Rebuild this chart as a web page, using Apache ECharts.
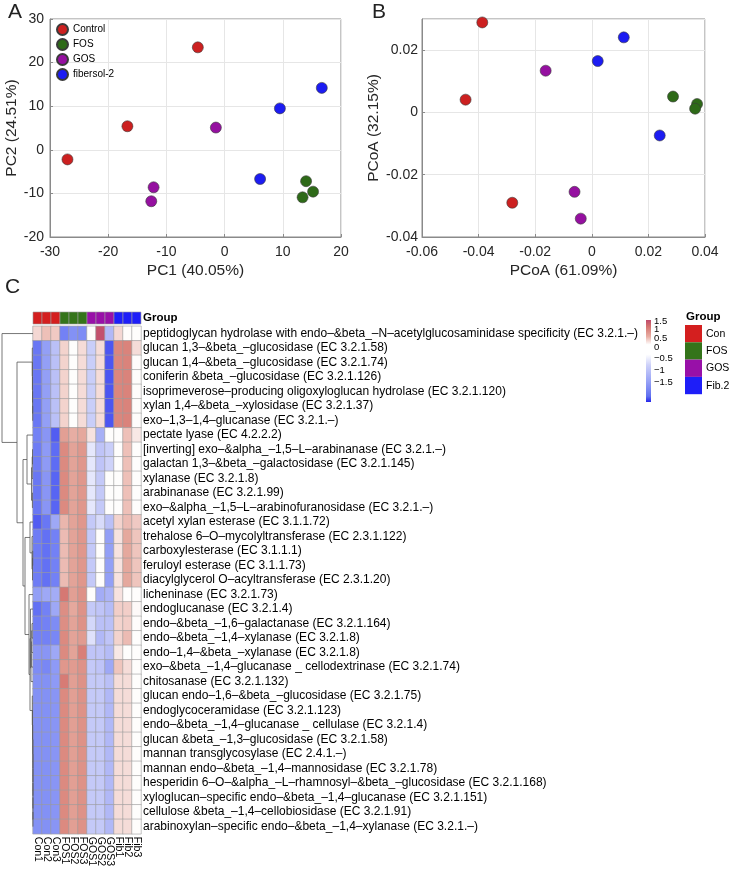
<!DOCTYPE html>
<html><head><meta charset="utf-8">
<script src="https://cdn.jsdelivr.net/npm/echarts@6/dist/echarts.min.js"></script>
<style>html,body{margin:0;padding:0;background:#fff}#c{width:733px;height:870px}</style>
</head><body><div id="c"></div>
<script>
// ---------- DATA ----------
const pcaNames = ['Control','FOS','GOS','fibersol-2'];
const pcaControl = [[-27.0,-2.2],[-16.7,5.4],[-4.6,23.5]];
const pcaFOS = [[14.0,-7.2],[15.2,-9.6],[13.4,-10.9]];
const pcaGOS = [[-1.5,5.1],[-12.2,-8.6],[-12.6,-11.8]];
const pcaFib = [[6.1,-6.7],[9.5,9.5],[16.7,14.2]];

const pcoaControl = [[-0.0387,0.0289],[-0.0446,0.0041],[-0.0281,-0.0290]];
const pcoaFOS = [[0.0287,0.0051],[0.0372,0.0027],[0.0365,0.0012]];
const pcoaGOS = [[-0.0163,0.0134],[-0.0061,-0.0255],[-0.0039,-0.0341]];
const pcoaFib = [[0.0021,0.0165],[0.0113,0.0241],[0.0240,-0.0074]];

const colLabels = ['Con1','Con2','Con3','FOS1','FOS2','FOS3','GOS1','GOS2','GOS3','Fib1','Fib2','Fib3'];
const colGroups = [0,0,0,1,1,1,2,2,2,3,3,3];
const groupNames = ['Con','FOS','GOS','Fib.2'];
const legendTicks = [1.5,1,0.5,0,-0.5,-1,-1.5];

const rowLabels = [
'peptidoglycan hydrolase with endo–&beta_–N–acetylglucosaminidase specificity (EC 3.2.1.–)',
'glucan 1,3–&beta_–glucosidase (EC 3.2.1.58)',
'glucan 1,4–&beta_–glucosidase (EC 3.2.1.74)',
'coniferin &beta_–glucosidase (EC 3.2.1.126)',
'isoprimeverose–producing oligoxyloglucan hydrolase (EC 3.2.1.120)',
'xylan 1,4–&beta_–xylosidase (EC 3.2.1.37)',
'exo–1,3–1,4–glucanase (EC 3.2.1.–)',
'pectate lyase (EC 4.2.2.2)',
'[inverting] exo–&alpha_–1,5–L–arabinanase (EC 3.2.1.–)',
'galactan 1,3–&beta_–galactosidase (EC 3.2.1.145)',
'xylanase (EC 3.2.1.8)',
'arabinanase (EC 3.2.1.99)',
'exo–&alpha_–1,5–L–arabinofuranosidase (EC 3.2.1.–)',
'acetyl xylan esterase (EC 3.1.1.72)',
'trehalose 6–O–mycolyltransferase (EC 2.3.1.122)',
'carboxylesterase (EC 3.1.1.1)',
'feruloyl esterase (EC 3.1.1.73)',
'diacylglycerol O–acyltransferase (EC 2.3.1.20)',
'licheninase (EC 3.2.1.73)',
'endoglucanase (EC 3.2.1.4)',
'endo–&beta_–1,6–galactanase (EC 3.2.1.164)',
'endo–&beta_–1,4–xylanase (EC 3.2.1.8)',
'endo–1,4–&beta_–xylanase (EC 3.2.1.8)',
'exo–&beta_–1,4–glucanase _ cellodextrinase (EC 3.2.1.74)',
'chitosanase (EC 3.2.1.132)',
'glucan endo–1,6–&beta_–glucosidase (EC 3.2.1.75)',
'endoglycoceramidase (EC 3.2.1.123)',
'endo–&beta_–1,4–glucanase _ cellulase (EC 3.2.1.4)',
'glucan &beta_–1,3–glucosidase (EC 3.2.1.58)',
'mannan transglycosylase (EC 2.4.1.–)',
'mannan endo–&beta_–1,4–mannosidase (EC 3.2.1.78)',
'hesperidin 6–O–&alpha_–L–rhamnosyl–&beta_–glucosidase (EC 3.2.1.168)',
'xyloglucan–specific endo–&beta_–1,4–glucanase (EC 3.2.1.151)',
'cellulose &beta_–1,4–cellobiosidase (EC 3.2.1.91)',
'arabinoxylan–specific endo–&beta_–1,4–xylanase (EC 3.2.1.–)'
];

// z-scores, columns Con1..Fib3
const heatValues = [
[0.35,0.6,0.5,-1.3,-1.15,-1.2,0.02,1.75,-0.7,0.35,0.03,0.02],
[-1.4,-1.0,-0.6,0.4,0.02,0.3,-0.45,0.3,-1.65,1.25,1.3,0.3],
[-1.4,-1.0,-0.6,0.4,0.02,0.3,-0.45,0.3,-1.65,1.25,1.3,0.03],
[-1.4,-1.0,-0.6,0.4,0.02,0.3,-0.45,0.3,-1.65,1.25,1.3,0.03],
[-1.4,-1.0,-0.6,0.4,0.02,0.3,-0.45,0.3,-1.65,1.25,1.3,0.03],
[-1.4,-1.0,-0.6,0.4,0.02,0.3,-0.45,0.3,-1.65,1.25,1.3,0.03],
[-1.4,-1.0,-0.6,0.4,0.02,0.3,-0.45,0.3,-1.65,1.25,1.3,0.03],
[-1.3,-1.1,-1.6,0.95,0.8,0.85,0.25,-0.8,0.02,0.02,0.6,0.2],
[-1.35,-1.05,-1.5,1.2,0.9,1.05,-0.2,-0.55,-0.45,0.02,0.6,0.02],
[-1.35,-1.05,-1.5,1.2,0.9,1.05,-0.2,-0.55,-0.4,0.02,0.6,0.02],
[-1.4,-1.1,-1.55,1.2,0.9,1.05,-0.2,-0.5,0.02,0.02,0.6,0.02],
[-1.4,-1.1,-1.55,1.2,0.9,1.05,-0.2,-0.5,0.02,0.02,0.6,0.02],
[-1.4,-1.1,-1.55,1.2,0.9,1.05,-0.2,-0.5,0.02,0.02,0.6,0.02],
[-1.6,-1.4,-0.9,0.7,0.9,1.05,-0.5,-0.3,-0.6,0.4,0.65,0.5],
[-1.35,-1.45,-1.3,0.65,0.9,1.05,-0.5,0.02,-1.0,0.25,0.85,0.55],
[-1.35,-1.45,-1.3,0.65,0.9,1.05,-0.5,0.02,-1.0,0.25,0.85,0.55],
[-1.35,-1.45,-1.3,0.65,0.9,1.05,-0.5,0.02,-1.0,0.25,0.85,0.55],
[-1.35,-1.45,-1.3,0.65,0.9,1.05,-0.5,0.02,-1.0,0.25,0.85,0.55],
[-1.0,-0.9,-0.85,1.45,0.95,1.1,0.02,-0.85,-0.75,0.25,0.02,0.02],
[-1.45,-1.3,-0.9,1.15,0.85,1.1,-0.5,-0.55,-0.65,0.45,0.45,0.05],
[-1.35,-1.3,-1.2,1.15,0.9,1.1,-0.35,-0.6,-0.6,0.4,0.45,0.03],
[-1.3,-1.3,-1.25,1.2,0.9,1.0,-0.25,-0.7,-0.55,0.4,0.65,0.02],
[-1.1,-1.1,-0.9,1.2,0.9,1.35,-0.55,-0.55,-0.65,0.2,0.02,0.02],
[-1.2,-1.25,-1.05,1.05,1.0,1.1,-0.5,-0.55,-0.9,0.55,0.3,0.02],
[-1.15,-1.15,-1.05,1.4,0.95,1.1,-0.5,-0.5,-0.6,0.3,0.3,0.02],
[-1.15,-1.15,-1.1,1.2,0.95,1.1,-0.5,-0.5,-0.7,0.3,0.3,0.02],
[-1.15,-1.15,-1.1,1.2,0.95,1.1,-0.5,-0.5,-0.7,0.3,0.3,0.02],
[-1.15,-1.15,-1.1,1.2,0.95,1.1,-0.5,-0.5,-0.7,0.3,0.3,0.02],
[-1.15,-1.15,-1.1,1.2,0.95,1.1,-0.5,-0.5,-0.7,0.3,0.3,0.02],
[-1.15,-1.15,-1.1,1.2,0.95,1.1,-0.5,-0.5,-0.7,0.3,0.3,0.02],
[-1.15,-1.15,-1.1,1.2,0.95,1.1,-0.5,-0.5,-0.7,0.3,0.3,0.02],
[-1.15,-1.15,-1.1,1.2,0.95,1.1,-0.5,-0.5,-0.7,0.3,0.3,0.02],
[-1.15,-1.15,-1.1,1.2,0.95,1.1,-0.5,-0.5,-0.7,0.3,0.3,0.02],
[-1.15,-1.15,-1.1,1.2,0.95,1.1,-0.5,-0.5,-0.7,0.3,0.3,0.02],
[-1.15,-1.15,-1.1,1.2,0.95,1.1,-0.5,-0.5,-0.7,0.3,0.3,0.02]
];

// row dendrogram merges: [childA, childB, height]; negative = row (1-based), positive = earlier merge (1-based)
const dendroMerges = [
[-6,-7,0.3],[-5,1,0.4],[-4,2,0.5],[-3,3,0.6],[-2,4,0.7],
[-9,-10,0.5],[6,-11,0.8],[-12,-13,0.6],[7,8,1.5],[-8,9,6],
[-16,-17,0.3],[11,-18,0.5],[-15,12,1],[-14,13,3],
[-34,-35,0.05],[-33,15,0.05],[-32,16,0.05],[-31,17,0.05],[-30,18,0.05],[-29,19,0.1],[-28,20,0.3],[-27,21,0.5],[-26,22,0.7],
[-21,-22,1],[24,-23,1.3],[25,-24,1.6],[26,-25,2],[-20,27,2.5],[28,23,3],[-19,29,4],
[14,30,8],[10,31,10],[5,32,16],[-1,33,31]
];

// ---------- STYLE ----------
const FONT = '"Liberation Sans", Arial, Helvetica, sans-serif';
const ptColors = ['#cc2020','#2e6a18','#9510a0','#1c1cf2'];
const groupColors = ['#d41f1f','#34741a','#9810a8','#1e1ef8'];
const heatColors = ['#3a40ee','#5e6cf4','#7e8cf5','#9ea8f6','#bac0f7','#d8dbfa','#ffffff','#f5dcd8','#eec0b8','#e3a398','#dc8a80','#d57470','#bf4a6c'];

// dendrogram node positions
const nodeH = [], nodeY = [];
function childPos(c){ return c < 0 ? [0, -c] : [nodeH[c-1], nodeY[c-1]]; }
dendroMerges.forEach((m, k) => {
  const a = childPos(m[0]), b = childPos(m[1]);
  nodeH[k] = m[2]; nodeY[k] = (a[1] + b[1]) / 2;
});

const chart = echarts.init(document.getElementById('c'), null, {renderer: 'canvas'});

function scatterAxis(grid, min, max, interval, name, gap, lblMargin, isY) {
  return {
    type: 'value', gridIndex: grid, min: min, max: max, interval: interval,
    name: name, nameLocation: 'middle', nameGap: gap,
    nameTextStyle: {fontFamily: FONT, fontSize: 15.5, color: '#262626'},
    axisLine: {show: true, onZero: false, lineStyle: {color: '#8a8a8a', width: 1}},
    axisTick: {show: true, inside: true, length: 3, lineStyle: {color: '#8a8a8a'}},
    axisLabel: {fontFamily: FONT, fontSize: 14, color: '#262626', margin: lblMargin, showMaxLabel: isY && max === 0.03 ? false : true},
    splitLine: {show: true, lineStyle: {color: '#e6e6e6', width: 1}}
  };
}

const pcaSets = [pcaControl, pcaFOS, pcaGOS, pcaFib];
const pcoaSets = [pcoaControl, pcoaFOS, pcoaGOS, pcoaFib];
const series = [];
pcaSets.forEach((d, i) => series.push({
  type: 'scatter', name: pcaNames[i], xAxisIndex: 0, yAxisIndex: 0, data: d, symbolSize: 11,
  itemStyle: {color: ptColors[i], borderColor: '#3a3a3a', borderWidth: 0.6, opacity: 1}
}));
pcoaSets.forEach((d, i) => series.push({
  type: 'scatter', name: pcaNames[i], xAxisIndex: 1, yAxisIndex: 1, data: d, symbolSize: 11,
  itemStyle: {color: ptColors[i], borderColor: '#3a3a3a', borderWidth: 0.6, opacity: 1}
}));
const heatData = [];
heatValues.forEach((row, r) => row.forEach((v, c) => heatData.push([c, r, v])));
series.push({
  type: 'heatmap', xAxisIndex: 3, yAxisIndex: 3, data: heatData,
  itemStyle: {borderColor: '#9c9c9c', borderWidth: 0.6}, emphasis: {disabled: true}
});
series.push({
  type: 'custom', xAxisIndex: 2, yAxisIndex: 2,
  data: colLabels.map((_, i) => [i, 0]),
  renderItem: function (params, api) {
    const p = api.coord([api.value(0), api.value(1)]);
    const s = api.size([1, 1]);
    return {type: 'rect', shape: {x: p[0] - s[0] / 2, y: p[1] - s[1] / 2, width: s[0], height: s[1]},
      style: {fill: groupColors[colGroups[params.dataIndex]], stroke: '#9c9c9c', lineWidth: 0.6}};
  }
});
series.push({
  type: 'custom', xAxisIndex: 4, yAxisIndex: 4,
  data: dendroMerges.map((m, k) => [nodeH[k], nodeY[k]]),
  renderItem: function (params, api) {
    const m = dendroMerges[params.dataIndex];
    const a = childPos(m[0]), b = childPos(m[1]), h = m[2];
    const pts = [[a[0], a[1]], [h, a[1]], [h, b[1]], [b[0], b[1]]].map(q => api.coord(q));
    return {type: 'polyline', shape: {points: pts}, style: {stroke: '#555', lineWidth: 0.8, fill: null}};
  }
});

// graphic: panel letters and heatmap legends
const graphics = [
  {type: 'text', left: 8, top: 2, style: {text: 'A', font: '21px ' + FONT, fill: '#222'}},
  {type: 'text', left: 372, top: 2, style: {text: 'B', font: '21px ' + FONT, fill: '#222'}},
  {type: 'text', left: 5, top: 277, style: {text: 'C', font: '21px ' + FONT, fill: '#222'}},
  {type: 'rect', shape: {x: 646, y: 320, width: 5, height: 82},
   style: {fill: new echarts.graphic.LinearGradient(0, 0, 0, 1, [
     {offset: 0, color: '#bf4a6c'}, {offset: 0.08, color: '#d57470'}, {offset: 0.2, color: '#e8aca2'},
     {offset: 0.3, color: '#ffffff'}, {offset: 0.42, color: '#ffffff'}, {offset: 0.55, color: '#cdd1f9'},
     {offset: 0.75, color: '#97a2f6'}, {offset: 0.93, color: '#6070f0'}, {offset: 1, color: '#2525ea'}])}},
  {type: 'text', left: 686, top: 311, style: {text: 'Group', font: 'bold 11.5px ' + FONT, fill: '#000'}}
];
legendTicks.forEach(v => {
  const y = v >= 0 ? 347 - v * 17.3 : 347 - v * 23.3;
  graphics.push({type: 'text', x: 654, y: y, style: {text: v < 0 ? '\u2212' + Math.abs(v) : String(v), font: '9.5px ' + FONT, fill: '#000', verticalAlign: 'middle'}});
});
groupNames.forEach((g, i) => {
  graphics.push({type: 'rect', shape: {x: 685, y: 325 + i * 17.3, width: 17, height: 17.3}, style: {fill: groupColors[i]}});
  graphics.push({type: 'text', x: 706, y: 325 + i * 17.3 + 8.8, style: {text: g, font: '10.5px ' + FONT, fill: '#000', verticalAlign: 'middle'}});
});

const option = {
  animation: false,
  backgroundColor: '#fff',
  textStyle: {fontFamily: FONT},
  legend: {
    data: pcaNames, orient: 'vertical', left: 56, top: 23, itemWidth: 11, itemHeight: 11, itemGap: 2,
    icon: 'circle', textStyle: {fontFamily: FONT, fontSize: 10, color: '#000'}, padding: 0
  },
  grid: [
    {left: 50, top: 19, width: 291, height: 218, show: true, borderColor: '#8a8a8a', borderWidth: 1, backgroundColor: '#fff'},
    {left: 422, top: 19, width: 283, height: 218, show: true, borderColor: '#8a8a8a', borderWidth: 1, backgroundColor: '#fff'},
    {left: 33, top: 312, width: 108, height: 12},
    {left: 33, top: 326.3, width: 108, height: 507.5},
    {left: 0, top: 326.3, width: 33, height: 507.5}
  ],
  xAxis: [
    scatterAxis(0, -30, 20, 10, 'PC1 (40.05%)', 26, 8, false),
    scatterAxis(1, -0.06, 0.04, 0.02, 'PCoA (61.09%)', 26, 8, false),
    {type: 'category', gridIndex: 2, data: colLabels, show: false},
    {type: 'category', gridIndex: 3, data: colLabels, position: 'bottom',
     axisLine: {show: false}, axisTick: {show: false}, splitLine: {show: false},
     axisLabel: {interval: 0, rotate: -90, fontFamily: FONT, fontSize: 10.5, color: '#000', margin: 3}},
    {type: 'value', gridIndex: 4, min: 0, max: 33, inverse: true, show: false}
  ],
  yAxis: [
    scatterAxis(0, -20, 30, 10, 'PC2 (24.51%)', 28, 6, true),
    scatterAxis(1, -0.04, 0.03, 0.02, 'PCoA (32.15%)', 38, 4, true),
    {type: 'category', gridIndex: 2, data: ['Group'], position: 'right',
     axisLine: {show: false}, axisTick: {show: false},
     axisLabel: {fontFamily: FONT, fontSize: 11.5, fontWeight: 'bold', color: '#000', margin: 2}},
    {type: 'category', gridIndex: 3, data: rowLabels, inverse: true, position: 'right',
     axisLine: {show: false}, axisTick: {show: false}, splitLine: {show: false},
     axisLabel: {interval: 0, fontFamily: FONT, fontSize: 12, color: '#000', margin: 2}},
    {type: 'value', gridIndex: 4, min: 0.5, max: 35.5, inverse: true, show: false}
  ],
  visualMap: {
    type: 'continuous', show: false, seriesIndex: 8, min: -1.8, max: 1.8, dimension: 2,
    inRange: {color: heatColors}
  },
  graphic: graphics,
  series: series
};
chart.setOption(option);
</script>
</body></html>
